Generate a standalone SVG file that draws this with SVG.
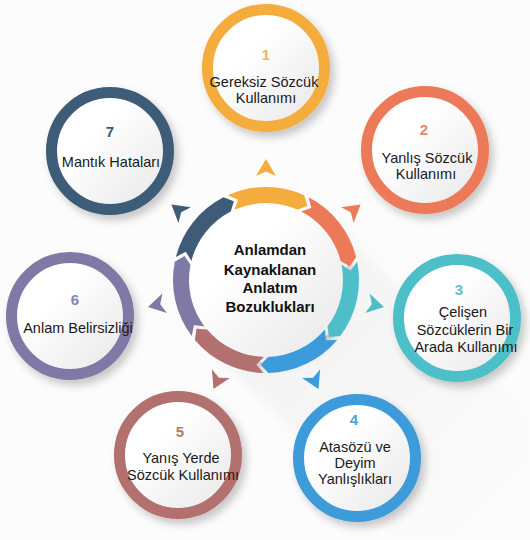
<svg xmlns="http://www.w3.org/2000/svg" xmlns:xlink="http://www.w3.org/1999/xlink" width="530" height="540" viewBox="0 0 530 540">
<style>
.lbl{font-family:"Liberation Sans",Arial,sans-serif;font-size:14.5px;fill:#1a1a1a;text-anchor:middle}
.num{font-family:"Liberation Sans",Arial,sans-serif;font-size:15px;font-weight:bold;text-anchor:middle}
.ctr{font-family:"Liberation Sans",Arial,sans-serif;font-size:15px;font-weight:bold;fill:#111;text-anchor:middle}
.ring{fill:url(#disc);stroke-width:11;filter:url(#sh)}
</style>
<defs>
<linearGradient id="disc" x1="0" y1="0" x2="1" y2="1">
<stop offset="0.35" stop-color="#ffffff"/>
<stop offset="1" stop-color="#e6e6e6"/>
</linearGradient>
<linearGradient id="longsh" x1="0" y1="0" x2="1" y2="1">
<stop offset="0" stop-color="#000" stop-opacity="0.045"/>
<stop offset="1" stop-color="#000" stop-opacity="0"/>
</linearGradient>
<filter id="sh" x="-30%" y="-30%" width="170%" height="170%">
<feDropShadow dx="4" dy="5" stdDeviation="4" flood-color="#000" flood-opacity="0.22"/>
</filter>
<filter id="blur" x="-20%" y="-20%" width="140%" height="140%">
<feGaussianBlur stdDeviation="6"/>
</filter>
<path id="seg" d="M-38.12,-84.83 A93,93 0 0 1 38.12,-84.83 L41.47,-74.2 L31.56,-70.23 A77,77 0 0 0 -31.56,-70.23 L-27.96,-80.27 Z"/>
<path id="ptr" d="M0,-121 L10,-104 L0,-108.5 L-10,-104 Z"/>
</defs>
<rect width="530" height="540" fill="#fcfcfc"/>
<polygon points="200,340 332,220 530,420 530,540 400,540" fill="url(#longsh)" filter="url(#blur)"/>

<g id="center">
<circle cx="266" cy="280" r="82" fill="url(#disc)" filter="url(#sh)"/>
<g transform="translate(266,280)">
<use xlink:href="#seg" href="#seg" fill="#F4AC3C"/>
<use xlink:href="#seg" href="#seg" fill="#EC7A58" transform="rotate(51.43)"/>
<use xlink:href="#seg" href="#seg" fill="#4EBFC9" transform="rotate(102.86)"/>
<use xlink:href="#seg" href="#seg" fill="#3C9BDA" transform="rotate(154.29)"/>
<use xlink:href="#seg" href="#seg" fill="#B2706E" transform="rotate(205.71)"/>
<use xlink:href="#seg" href="#seg" fill="#7F79A6" transform="rotate(257.14)"/>
<use xlink:href="#seg" href="#seg" fill="#3E5B78" transform="rotate(308.57)"/>
</g>
<text class="ctr" x="270" y="255">Anlamdan</text>
<text class="ctr" x="270" y="275">Kaynaklanan</text>
<text class="ctr" x="270" y="293">Anlatım</text>
<text class="ctr" x="270" y="312">Bozuklukları</text>
</g>

<g id="connectors" transform="translate(266,280)">
<use xlink:href="#ptr" href="#ptr" fill="#F4AC3C"/>
<use xlink:href="#ptr" href="#ptr" fill="#EC7A58" transform="rotate(51.43)"/>
<use xlink:href="#ptr" href="#ptr" fill="#4EBFC9" transform="rotate(102.86)"/>
<use xlink:href="#ptr" href="#ptr" fill="#3C9BDA" transform="rotate(154.29)"/>
<use xlink:href="#ptr" href="#ptr" fill="#B2706E" transform="rotate(205.71)"/>
<use xlink:href="#ptr" href="#ptr" fill="#7F79A6" transform="rotate(257.14)"/>
<use xlink:href="#ptr" href="#ptr" fill="#3E5B78" transform="rotate(308.57)"/>
</g>

<g id="node1">
<circle class="ring" cx="266" cy="68" r="58.5" stroke="#F4AC3C"/>
<text class="num" x="266" y="60" fill="#F2B257">1</text>
<text class="lbl" x="264" y="87">Gereksiz Sözcük</text>
<text class="lbl" x="266" y="103">Kullanımı</text>
</g>

<g id="node2">
<circle class="ring" cx="425" cy="150" r="58.5" stroke="#EC7A58"/>
<text class="num" x="424" y="135" fill="#E9866A">2</text>
<text class="lbl" x="427" y="163">Yanlış Sözcük</text>
<text class="lbl" x="426" y="179">Kullanımı</text>
</g>

<g id="node3">
<circle class="ring" cx="457" cy="318" r="58.5" stroke="#4EBFC9"/>
<text class="num" x="459" y="295" fill="#5CC3CC">3</text>
<text class="lbl" x="463" y="317">Çelişen</text>
<text class="lbl" x="465" y="335">Sözcüklerin Bir</text>
<text class="lbl" x="466" y="352">Arada Kullanımı</text>
</g>

<g id="node4">
<circle class="ring" cx="357" cy="458" r="58.5" stroke="#3C9BDA"/>
<text class="num" x="354" y="425" fill="#4BA3DB">4</text>
<text class="lbl" x="355" y="452">Atasözü ve</text>
<text class="lbl" x="355" y="468">Deyim</text>
<text class="lbl" x="355" y="484">Yanlışlıkları</text>
</g>

<g id="node5">
<circle class="ring" cx="178" cy="455" r="58.5" stroke="#B2706E"/>
<text class="num" x="180" y="437" fill="#B27A78">5</text>
<text class="lbl" x="181" y="463">Yanış Yerde</text>
<text class="lbl" x="183" y="480">Sözcük Kullanımı</text>
</g>

<g id="node6">
<circle class="ring" cx="70" cy="316" r="58.5" stroke="#7F79A6"/>
<text class="num" x="75" y="305" fill="#8A84AE">6</text>
<text class="lbl" x="78" y="333">Anlam Belirsizliği</text>
</g>

<g id="node7">
<circle class="ring" cx="110" cy="151" r="58.5" stroke="#3E5B78"/>
<text class="num" x="110" y="137" fill="#3F5873">7</text>
<text class="lbl" x="111" y="167">Mantık Hataları</text>
</g>
</svg>
